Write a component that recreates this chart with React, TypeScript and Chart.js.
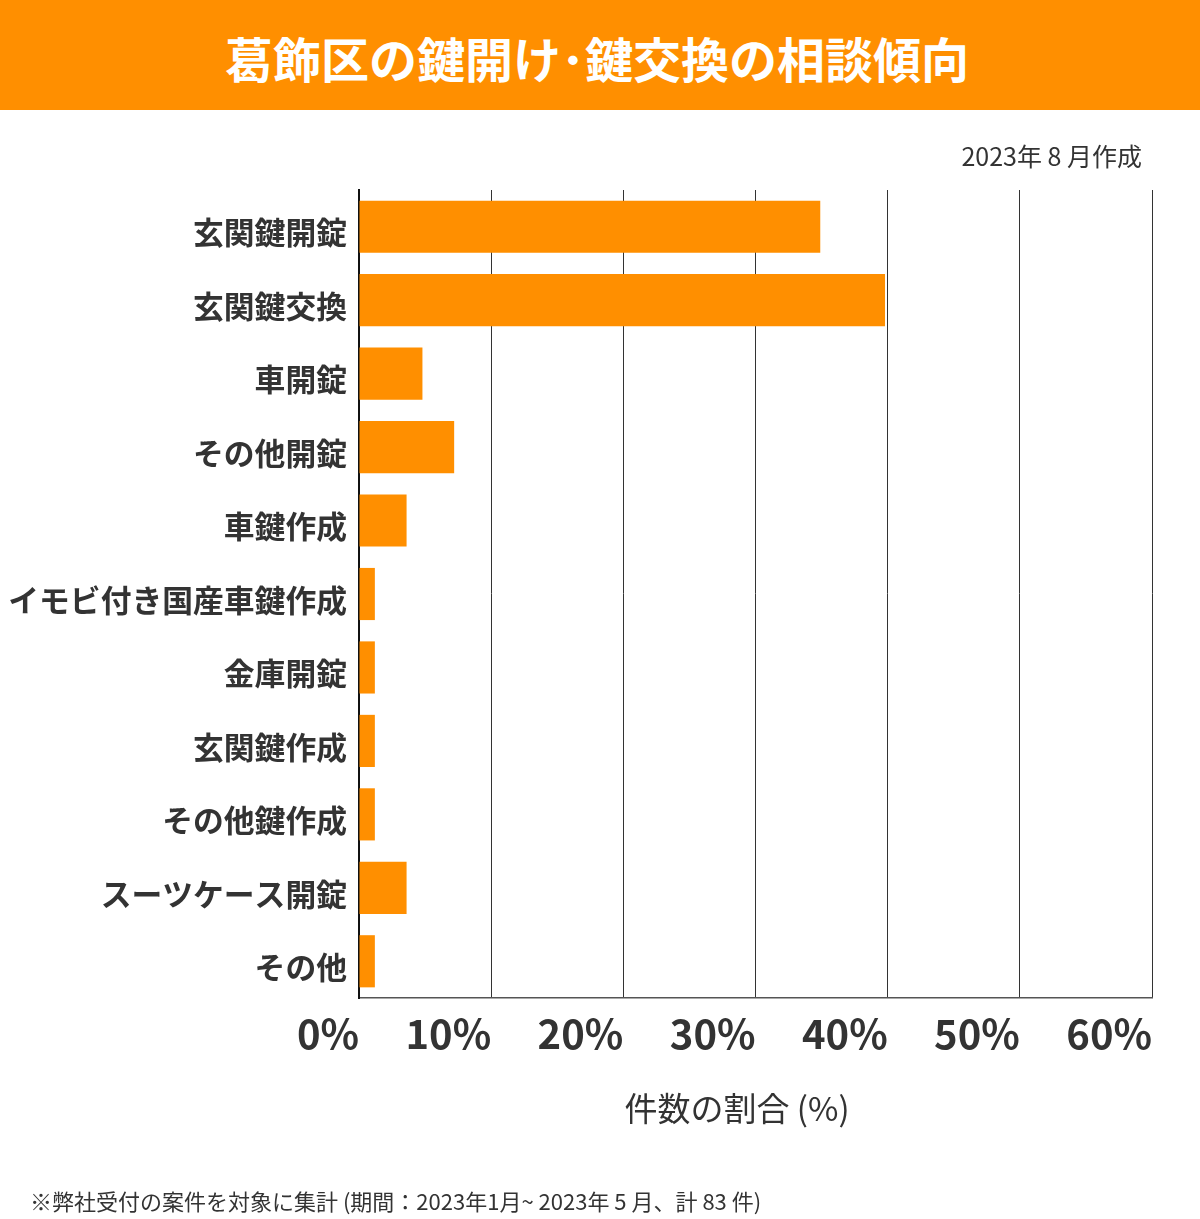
import React, { useEffect, useRef } from "react";
import { Chart, registerables } from "chart.js";

Chart.register(...registerables);

const categories = [
  "玄関鍵開錠",
  "玄関鍵交換",
  "車開錠",
  "その他開錠",
  "車鍵作成",
  "イモビ付き国産車鍵作成",
  "金庫開錠",
  "玄関鍵作成",
  "その他鍵作成",
  "スーツケース開錠",
  "その他",
];
const shares = [34.9, 39.8, 4.8, 7.2, 3.6, 1.2, 1.2, 1.2, 1.2, 3.6, 1.2];
const xTicks = [0, 10, 20, 30, 40, 50, 60];

const TITLE = "葛飾区の鍵開け･鍵交換の相談傾向";
const DATE_NOTE = "2023年 8 月作成";
const AXIS_TITLE = "件数の割合 (%)";
const FOOTNOTE = "※弊社受付の案件を対象に集計 (期間：2023年1月~ 2023年 5 月、計 83 件)";

const ORANGE = "#FF8F00";
const FONT = '"Noto Sans CJK JP", "Noto Sans", sans-serif';

export default function App() {
  const ref = useRef<HTMLCanvasElement | null>(null);

  useEffect(() => {
    if (!ref.current) return;
    const chart = new Chart(ref.current, {
      type: "bar",
      data: {
        labels: categories,
        datasets: [
          {
            data: shares,
            backgroundColor: ORANGE,
            borderWidth: 0,
            categoryPercentage: 1,
            barPercentage: 0.71,
          },
        ],
      },
      options: {
        indexAxis: "y",
        animation: false,
        responsive: false,
        maintainAspectRatio: false,
        devicePixelRatio: 1,
        layout: { padding: { top: 190, right: 48, bottom: 161, left: 0 } },
        plugins: {
          legend: { display: false },
          tooltip: { enabled: false },
          title: { display: false },
        },
        scales: {
          x: {
            min: 0,
            max: 60,
            afterBuildTicks: (scale: any) => {
              scale.ticks = xTicks.map((v) => ({ value: v }));
            },
            afterFit: (scale: any) => {
              scale.height = 60;
            },
            ticks: {
              callback: (v: any) => v + "%",
              align: "end",
              padding: 12,
              color: "#333333",
              font: { family: FONT, size: 40, weight: "bold" },
              maxRotation: 0,
            },
            grid: {
              color: "#333333",
              lineWidth: 1,
              drawTicks: false,
              tickLength: 0,
            },
            border: { display: true, color: "#555555", width: 1.5 },
          },
          y: {
            afterFit: (scale: any) => {
              scale.width = 359;
            },
            ticks: {
              color: "#333333",
              padding: 12,
              labelOffset: 6,
              font: { family: FONT, size: 30.8, weight: "bold" },
            },
            grid: { display: false, drawTicks: false },
            border: { display: true, color: "#111111", width: 2 },
          },
        },
      },
    });
    return () => chart.destroy();
  }, []);

  return (
    <div
      style={{
        position: "absolute",
        left: 0,
        top: 0,
        width: 1200,
        height: 1219,
        background: "#ffffff",
        fontFamily: FONT,
        overflow: "hidden",
      }}
    >
      <canvas
        ref={ref}
        width={1200}
        height={1219}
        style={{ position: "absolute", left: 0, top: 0, width: 1200, height: 1219 }}
      />
      <div
        style={{
          position: "absolute",
          left: 0,
          top: 0,
          width: 1200,
          height: 110,
          background: ORANGE,
          color: "#ffffff",
          fontWeight: "bold",
          fontSize: 48,
          lineHeight: "114px",
          textAlign: "center",
          whiteSpace: "pre",
        }}
      >
        <span style={{ position: "relative", left: -3 }}>{TITLE}</span>
      </div>
      <div
        style={{
          position: "absolute",
          right: 58,
          top: 138,
          fontSize: 25,
          lineHeight: "34px",
          color: "#333333",
          whiteSpace: "pre",
        }}
      >
        {DATE_NOTE}
      </div>
      <div
        style={{
          position: "absolute",
          left: 537,
          width: 400,
          top: 1087,
          fontSize: 33,
          lineHeight: "40px",
          color: "#333333",
          textAlign: "center",
          whiteSpace: "pre",
        }}
      >
        {AXIS_TITLE}
      </div>
      <div
        style={{
          position: "absolute",
          left: 30,
          top: 1184,
          fontSize: 22,
          lineHeight: "32px",
          color: "#333333",
          whiteSpace: "pre",
        }}
      >
        {FOOTNOTE}
      </div>
    </div>
  );
}
